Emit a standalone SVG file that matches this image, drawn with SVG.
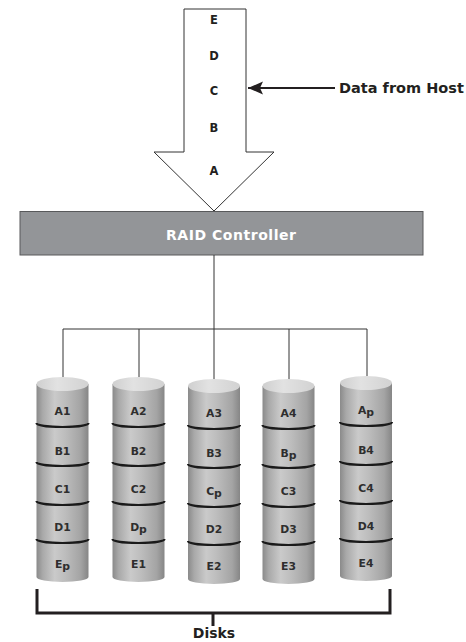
<svg xmlns="http://www.w3.org/2000/svg" xmlns:xlink="http://www.w3.org/1999/xlink" width="466" height="642" viewBox="0 0 466 642">
<style>
.t{font-family:"DejaVu Sans","Liberation Sans",sans-serif;font-weight:bold;fill:#231f20;text-anchor:middle}
.lbl{font-size:11.5px}
.dl{font-family:"DejaVu Sans","Liberation Sans",sans-serif;font-weight:bold;font-size:10.8px;fill:#2e2e2e;text-anchor:middle}
.con{stroke:#333;stroke-width:1;fill:none}
.div{stroke:#1a1a1a;stroke-width:2.2;fill:none}
</style>
<defs>
<linearGradient id="body" x1="0" y1="0" x2="1" y2="0">
<stop offset="0" stop-color="#8a8a8a"/>
<stop offset="0.12" stop-color="#a9a9a9"/>
<stop offset="0.35" stop-color="#cacaca"/>
<stop offset="0.55" stop-color="#bdbdbd"/>
<stop offset="0.85" stop-color="#a4a4a4"/>
<stop offset="1" stop-color="#868686"/>
</linearGradient>
<linearGradient id="top" x1="0" y1="0" x2="1" y2="0">
<stop offset="0" stop-color="#cfcfcf"/>
<stop offset="0.4" stop-color="#e2e2e2"/>
<stop offset="1" stop-color="#d2d2d2"/>
</linearGradient>
<g id="cyl">
<path d="M-26,384 V577 A26 5 0 0 0 26,577 V384 Z" fill="url(#body)"/>
<ellipse cx="0" cy="384" rx="26" ry="7" fill="url(#top)"/>
<path class="div" d="M-26,423 A26 4 0 0 0 26,423"/>
<path class="div" d="M-26,462 A26 4 0 0 0 26,462"/>
<path class="div" d="M-26,501 A26 4 0 0 0 26,501"/>
<path class="div" d="M-26,539 A26 4 0 0 0 26,539"/>
</g>
<marker id="ah" markerWidth="16" markerHeight="14" refX="1" refY="7" orient="auto" markerUnits="userSpaceOnUse">
<path d="M1,7 L16,0.5 L13,7 L16,13.5 Z" fill="#231f20"/>
</marker>
</defs>

<g id="data-arrow">
<polygon points="184,9 246,9 246,152 274,152 214,211 154,152 184,152" fill="#fff" stroke="#333" stroke-width="1"/>
<text class="t lbl" x="214" y="24">E</text>
<text class="t lbl" x="214" y="60">D</text>
<text class="t lbl" x="214" y="94.5">C</text>
<text class="t lbl" x="214" y="132">B</text>
<text class="t lbl" x="214" y="175">A</text>
</g>

<g id="host-label">
<text class="t" x="339" y="93" font-size="14.5" style="text-anchor:start">Data from Host</text>
</g>

<g id="raid-controller">
<rect x="20" y="211.5" width="403" height="43.5" fill="#939598" stroke="#58595b" stroke-width="1"/>
<text class="t" x="231" y="240" font-size="14" style="fill:#fff" textLength="130" lengthAdjust="spacing">RAID Controller</text>
</g>

<g id="connectors">
<line x1="248" y1="88" x2="335" y2="88" stroke="#231f20" stroke-width="2" marker-start="url(#ah)"/>
<path class="con" d="M214,255 V329 M63,329 H367 M63,329 V377 M139,329 V377 M214,329 V380 M289,329 V380 M367,329 V376"/>
<path d="M37,589 V613 H390 V589" fill="none" stroke="#231f20" stroke-width="3"/>
<path d="M213,613 V626" fill="none" stroke="#231f20" stroke-width="3"/>
</g>

<g id="disk1">
<use xlink:href="#cyl" href="#cyl" transform="translate(62.5,0)"/>
<text class="dl" x="62.5" y="415">A1</text>
<text class="dl" x="62.5" y="455">B1</text>
<text class="dl" x="62.5" y="493">C1</text>
<text class="dl" x="62.5" y="531">D1</text>
<text class="dl" x="62.5" y="568">E<tspan dy="1.5">p</tspan></text>
</g>

<g id="disk2">
<use xlink:href="#cyl" href="#cyl" transform="translate(138.5,0)"/>
<text class="dl" x="138.5" y="415">A2</text>
<text class="dl" x="138.5" y="455">B2</text>
<text class="dl" x="138.5" y="493">C2</text>
<text class="dl" x="138.5" y="531">D<tspan dy="1.5">p</tspan></text>
<text class="dl" x="138.5" y="568">E1</text>
</g>

<g id="disk3">
<use xlink:href="#cyl" href="#cyl" transform="translate(214,2)"/>
<text class="dl" x="214" y="417">A3</text>
<text class="dl" x="214" y="457">B3</text>
<text class="dl" x="214" y="495">C<tspan dy="1.5">p</tspan></text>
<text class="dl" x="214" y="533">D2</text>
<text class="dl" x="214" y="570">E2</text>
</g>

<g id="disk4">
<use xlink:href="#cyl" href="#cyl" transform="translate(288.5,2)"/>
<text class="dl" x="288.5" y="417">A4</text>
<text class="dl" x="288.5" y="457">B<tspan dy="1.5">p</tspan></text>
<text class="dl" x="288.5" y="495">C3</text>
<text class="dl" x="288.5" y="533">D3</text>
<text class="dl" x="288.5" y="570">E3</text>
</g>

<g id="disk5">
<use xlink:href="#cyl" href="#cyl" transform="translate(366,-1)"/>
<text class="dl" x="366" y="414">A<tspan dy="1.5">p</tspan></text>
<text class="dl" x="366" y="454">B4</text>
<text class="dl" x="366" y="492">C4</text>
<text class="dl" x="366" y="530">D4</text>
<text class="dl" x="366" y="567">E4</text>
</g>

<g id="disks-label">
<text class="t" x="214" y="638" font-size="14">Disks</text>
</g>
</svg>
